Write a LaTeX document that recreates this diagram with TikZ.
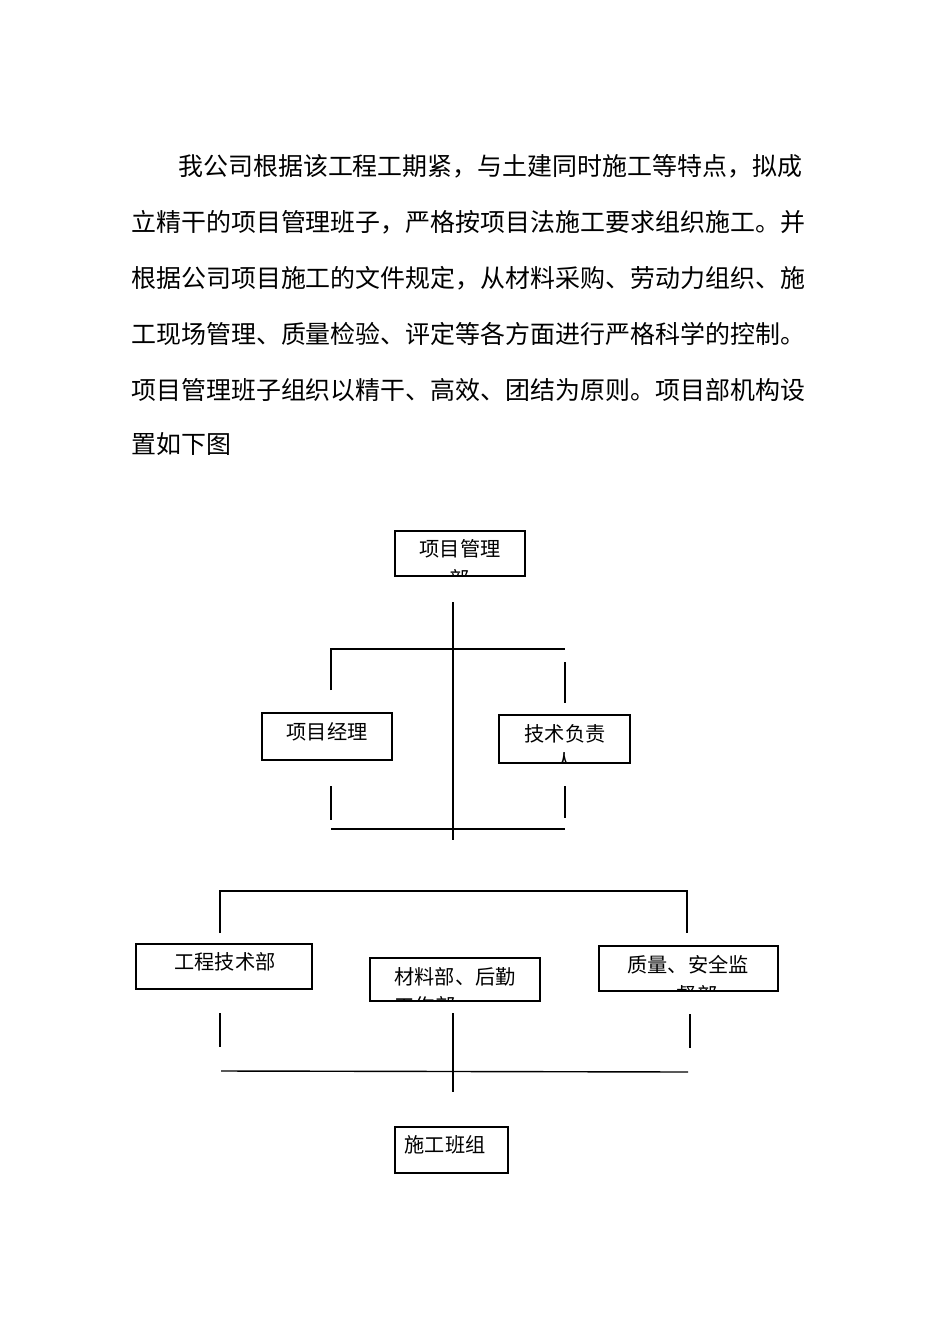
\documentclass[tikz,border=0pt]{standalone}
\usepackage{fontspec}
\newfontfamily\cjk{Noto Sans CJK SC}
\begin{document}
\begin{tikzpicture}[x=0.02cm,y=-0.02cm,
  para/.style={anchor=west,inner sep=0pt,font=\cjk\fontsize{14.2pt}{16pt}\selectfont},
  bx/.style={draw,line width=0.8pt,inner sep=0pt},
  bt/.style={inner sep=0pt,font=\cjk\fontsize{11.5pt}{13pt}\selectfont},
  ln/.style={line width=0.8pt}]
\useasboundingbox (0,0) rectangle (950,1344);
\node[para] (p1) at (178,166) {我公司根据该工程工期紧，与土建同时施工等特点，拟成};
\node[para] (p2) at (131,222) {立精干的项目管理班子，严格按项目法施工要求组织施工。并};
\node[para] (p3) at (131,278) {根据公司项目施工的文件规定，从材料采购、劳动力组织、施};
\node[para] (p4) at (131,334) {工现场管理、质量检验、评定等各方面进行严格科学的控制。};
\node[para] (p5) at (131,390) {项目管理班子组织以精干、高效、团结为原则。项目部机构设};
\node[para] (p6) at (131,444) {置如下图};
% boxes
\draw[bx] (395,531) rectangle (525,576);
\node[bt] (t1) at (460,549) {项目管理};
\begin{scope}\clip (395,531) rectangle (525,576);
\node[bt] (t1b) at (460,579) {部};\end{scope}
\draw[bx] (262,713) rectangle (392,760);
\node[bt] (t2) at (327,732) {项目经理};
\draw[bx] (499,715) rectangle (630,763);
\node[bt] (t3) at (565,734) {技术负责};
\begin{scope}\clip (499,715) rectangle (630,763);
\node[bt] (t3b) at (565,762) {人};\end{scope}
\draw[bx] (136,944) rectangle (312,989);
\node[bt] (t4) at (225,962) {工程技术部};
\draw[bx] (370,958) rectangle (540,1001);
\node[bt] (t5) at (455,977) {材料部、后勤};
\begin{scope}\clip (370,958) rectangle (540,1001);
\node[bt] (t5b) at (425,1006) {工作部};\end{scope}
\draw[bx] (599,946) rectangle (778,991);
\node[bt] (t6) at (688,965) {质量、安全监};
\begin{scope}\clip (599,946) rectangle (778,991);
\node[bt] (t6b) at (697,995) {督部};\end{scope}
\draw[bx] (395,1127) rectangle (508,1173);
\node[bt] (t7) at (445,1145) {施工班组};
% lines
\coordinate (a1) at (453,602); \coordinate (a2) at (453,840);
\draw[ln] (a1)--(a2);
\draw[ln] (331,690)--(331,649)--(565,649);
\draw[ln] (565,662)--(565,703);
\draw[ln] (331,786)--(331,820);
\draw[ln] (565,786)--(565,818);
\draw[ln] (331,829)--(565,829);
\draw[ln] (220,933)--(220,891)--(687,891)--(687,933);
\draw[ln] (220,1013)--(220,1047);
\draw[ln] (453,1013)--(453,1092);
\draw[ln] (690,1014)--(690,1048);
\draw[ln] (221,1071)--(688,1072);
\end{tikzpicture}
\end{document}
